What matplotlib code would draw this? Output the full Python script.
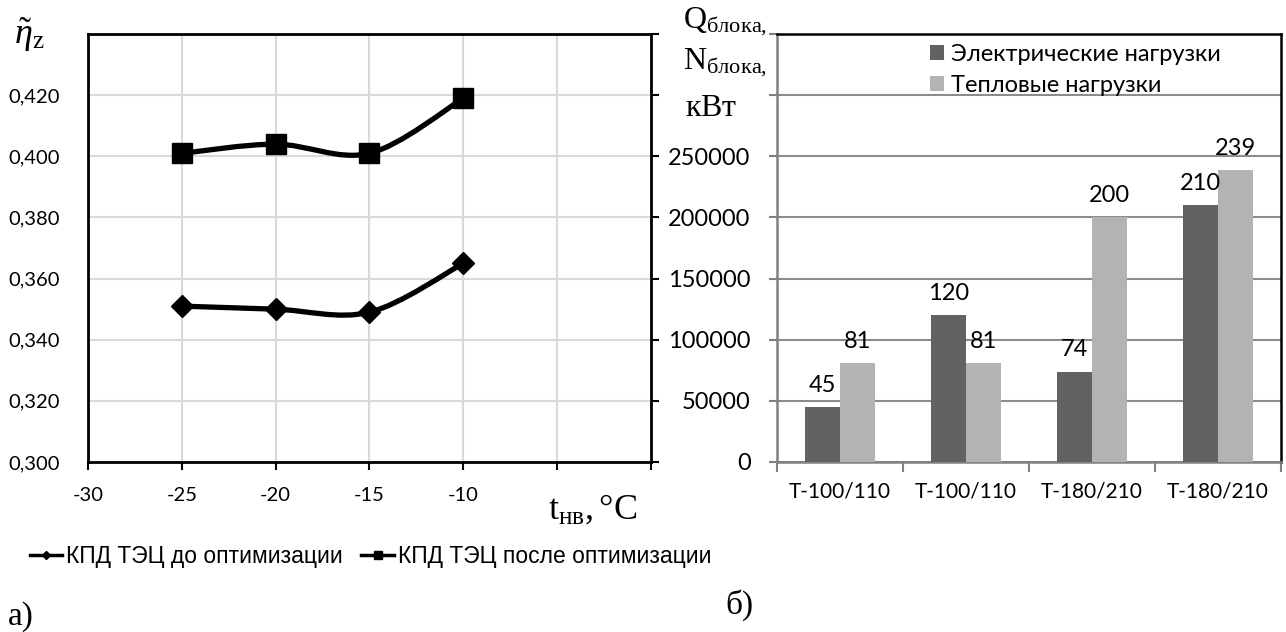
import numpy as np
import matplotlib
matplotlib.use('Agg')
import matplotlib.pyplot as plt
from matplotlib.path import Path
from matplotlib.patches import PathPatch
from matplotlib.lines import Line2D

plt.rcParams['mathtext.fontset'] = 'custom'
plt.rcParams['mathtext.rm'] = 'Liberation Serif'
plt.rcParams['mathtext.it'] = 'Liberation Serif:italic'

# КПД ТЭЦ в зависимости от температуры наружного воздуха
t_nv = [-25, -20, -15, -10]
kpd_do = [0.351, 0.350, 0.349, 0.365]
kpd_posle = [0.401, 0.404, 0.401, 0.419]
x_ticks = [-30, -25, -20, -15, -10, -5, 0]
x_ticklabels = ['-30', '-25', '-20', '-15', '-10', '', '']
y_ticks = [0.30, 0.32, 0.34, 0.36, 0.38, 0.40, 0.42, 0.44]
y_ticklabels = ['0,300', '0,320', '0,340', '0,360', '0,380', '0,400', '0,420', '']

# нагрузки блоков, МВт (на графике в кВт)
bloki = ['Т-100/110', 'Т-100/110', 'Т-180/210', 'Т-180/210']
el_mw = [45, 120, 74, 210]
tep_mw = [81, 81, 200, 239]
q_ticks = [0, 50000, 100000, 150000, 200000, 250000, 300000, 350000]
q_ticklabels = ['0', '50000', '100000', '150000', '200000', '250000', '', '']

SANS = 'Lato'


def smooth_path(xs, ys):
    # сглаженная линия кубическими Безье (как в Excel)
    pts = np.column_stack([xs, ys])
    n = len(pts)
    verts = [pts[0]]
    codes = [Path.MOVETO]
    for i in range(n - 1):
        p0 = pts[max(i - 1, 0)]
        p1 = pts[i]
        p2 = pts[i + 1]
        p3 = pts[min(i + 2, n - 1)]
        c1 = p1 + (p2 - p0) / 6
        c2 = p2 - (p3 - p1) / 6
        verts += [c1, c2, p2]
        codes += [Path.CURVE4] * 3
    return Path(verts, codes)


fig = plt.figure(figsize=(12.86, 6.32), dpi=100)

# ---- а) КПД ----
ax1 = fig.add_axes([0.0684, 0.269, 0.4378, 0.677])
ax1.set_xlim(-30, 0)
ax1.set_ylim(0.30, 0.44)
ax1.set_xticks(x_ticks)
ax1.set_xticklabels(x_ticklabels, fontfamily=SANS, fontsize=14.5)
ax1.set_yticks(y_ticks)
ax1.set_yticklabels(y_ticklabels, fontfamily=SANS, fontsize=14.5)
ax1.grid(True, color='#d9d9d9', linewidth=1.5)
ax1.set_axisbelow(True)
for s in ax1.spines.values():
    s.set_linewidth(2)
    s.set_color('black')
ax1.tick_params(axis='y', left=False, right=True, labelleft=True, labelright=False,
                direction='out', length=6, width=1.5, pad=14)
ax1.tick_params(axis='x', direction='out', length=6, width=1.5, pad=12)

for ys, mk, ms in [(kpd_do, 'D', 11), (kpd_posle, 's', 15)]:
    ax1.add_patch(PathPatch(smooth_path(t_nv, ys), fill=False, edgecolor='black',
                            linewidth=3.8, zorder=3))
    ax1.plot(t_nv, ys, linestyle='none', marker=mk, markersize=ms, color='black', zorder=4)

fig.text(0.011, 0.945, r'$\tilde{\eta}_{\mathrm{z}}$', fontsize=26, ha='left', va='center')
fig.text(0.426, 0.195, r'$\mathrm{t}_{\mathrm{нв}}\mathrm{,°C}$', fontsize=26,
         ha='left', va='center')

leg_handles = [
    Line2D([], [], color='black', linewidth=2.5, marker='D', markersize=4),
    Line2D([], [], color='black', linewidth=2.5, marker='s', markersize=6),
]
fig.legend(leg_handles, ['КПД ТЭЦ до оптимизации', 'КПД ТЭЦ после оптимизации'],
           loc='center left', bbox_to_anchor=(0.016, 0.12), ncol=2, frameon=False,
           prop={'family': 'Liberation Sans', 'size': 16.5},
           handlelength=1.4, handletextpad=0.2, columnspacing=0.8, borderaxespad=0)
fig.text(0.006, 0.024, 'а)', fontfamily='Liberation Serif', fontsize=24, va='center')

# ---- б) нагрузки ----
ax2 = fig.add_axes([0.6042, 0.269, 0.3919, 0.677])
x = np.arange(len(bloki))
w = 0.28
el = [v * 1000 for v in el_mw]
tep = [v * 1000 for v in tep_mw]
b1 = ax2.bar(x - w / 2, el, w, color='#626262', label='Электрические нагрузки', zorder=3)
b2 = ax2.bar(x + w / 2, tep, w, color='#b3b3b3', label='Тепловые нагрузки', zorder=3)
for bars, vals in [(b1, el_mw), (b2, tep_mw)]:
    for b, v in zip(bars, vals):
        ax2.annotate(str(v), (b.get_x() + b.get_width() / 2, b.get_height()),
                     xytext=(0, 8), textcoords='offset points', ha='center', va='bottom',
                     fontfamily=SANS, fontsize=17, zorder=5)

ax2.set_xlim(-0.5, len(bloki) - 0.5)
ax2.set_ylim(0, 350000)
ax2.set_yticks(q_ticks)
ax2.set_yticklabels(q_ticklabels, fontfamily=SANS, fontsize=17)
ax2.set_xticks(x)
ax2.set_xticklabels(bloki, fontfamily=SANS, fontsize=15)
ax2.set_xticks(np.arange(len(bloki) + 1) - 0.5, minor=True)
ax2.tick_params(axis='x', which='major', length=0, pad=14)
ax2.tick_params(axis='x', which='minor', direction='out', length=7, width=1.5, color='#808080')
ax2.tick_params(axis='y', direction='out', length=6, width=1.5, color='#808080', pad=13)
ax2.grid(True, axis='y', color='#8c8c8c', linewidth=1.5)
ax2.set_axisbelow(True)
ax2.spines['left'].set_color('#808080')
ax2.spines['bottom'].set_color('#808080')
ax2.spines['top'].set_color('black')
ax2.spines['right'].set_color('black')
for s in ax2.spines.values():
    s.set_linewidth(1.8)
ax2.legend(loc='upper left', bbox_to_anchor=(0.285, 1.0), frameon=False,
           prop={'family': SANS, 'size': 17}, handlelength=0.6, handleheight=0.6,
           handletextpad=0.3, labelspacing=0.45, borderaxespad=0)

fig.text(0.531, 0.966, r'$\mathrm{Q}_{\mathrm{блока,}}$', fontsize=23, ha='left', va='center')
fig.text(0.531, 0.9, r'$\mathrm{N}_{\mathrm{блока,}}$', fontsize=23, ha='left', va='center')
fig.text(0.533, 0.83, r'$\mathrm{кВт}$', fontsize=23, ha='left', va='center')
fig.text(0.564, 0.043, 'б)', fontfamily='Liberation Serif', fontsize=24, va='center')

fig.savefig('out.png', dpi=100)
